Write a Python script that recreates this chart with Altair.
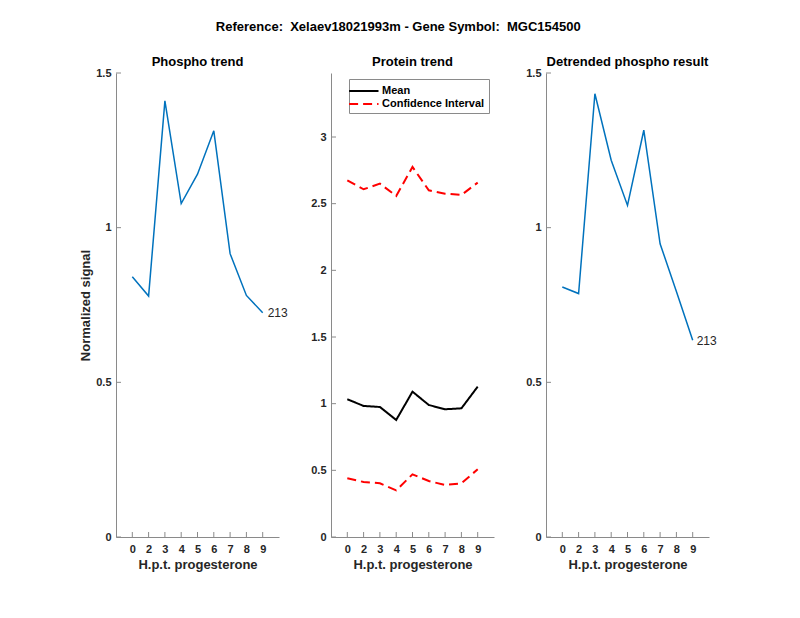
import altair as alt
import pandas as pd

# ---- data ----
hours = ["0", "2", "3", "4", "5", "6", "7", "8", "9"]
positions = [1, 2, 3, 4, 5, 6, 7, 8, 9]

phospho = [0.841, 0.779, 1.410, 1.078, 1.173, 1.313, 0.916, 0.781, 0.725]
protein_mean = [1.033, 0.983, 0.975, 0.878, 1.090, 0.990, 0.958, 0.965, 1.128]
protein_upper = [2.675, 2.608, 2.650, 2.558, 2.775, 2.600, 2.575, 2.565, 2.658]
protein_lower = [0.440, 0.413, 0.403, 0.350, 0.470, 0.420, 0.390, 0.403, 0.508]
detrended = [0.808, 0.787, 1.433, 1.218, 1.072, 1.315, 0.948, 0.794, 0.636]

peptide_label = "213"
y_ticks_1 = [0, 0.5, 1, 1.5]
y_ticks_2 = [0, 0.5, 1, 1.5, 2, 2.5, 3]

FONT = "Liberation Sans"
W, H = 163, 464
BLUE = "#0072BD"
AXC = "#262626"

label_expr = "[" + ",".join(f"'{h}'" for h in hours) + "][datum.value - 1]"
XSCALE = alt.Scale(domain=[0, 10], nice=False, zero=False)
XAXIS = alt.Axis(
    values=positions, labelExpr=label_expr, ticks=False, grid=False,
    labelOverlap=False, labelFlush=False,
    domainColor="#8a8a8a", labelColor=AXC, labelFont=FONT, labelFontSize=11,
    labelFontWeight="bold", labelPadding=6,
    title="H.p.t. progesterone", titleFont=FONT, titleFontSize=13,
    titleFontWeight="bold", titleColor=AXC, titlePadding=4,
)


def x_enc():
    return alt.X("pos:Q", scale=XSCALE, axis=XAXIS)


def y_axis(ticks, title=None):
    ax = dict(
        values=ticks, ticks=False, grid=False, domainColor="#8a8a8a", format="~g",
        labelOverlap=False, labelFlush=False,
        labelColor=AXC, labelFont=FONT, labelFontSize=11, labelFontWeight="bold",
        labelPadding=5,
    )
    if title:
        ax.update(title=title, titleFont=FONT, titleFontSize=13, titleFontWeight="bold",
                  titleColor=AXC, titlePadding=3)
    else:
        ax.update(title=None)
    return alt.Axis(**ax)


def y_enc(domain, yaxis):
    return alt.Y("v:Q", scale=alt.Scale(domain=domain, nice=False, zero=False), axis=yaxis)


def inward_ticks(domain, ticks, yaxis):
    xt = pd.DataFrame({"pos": positions})
    yt = pd.DataFrame({"v": ticks})
    xr = alt.Chart(xt).mark_rule(color="#8a8a8a", strokeWidth=1).encode(
        x=x_enc(), y=alt.value(H), y2=alt.value(H - 5))
    yr = alt.Chart(yt).mark_rule(color="#8a8a8a", strokeWidth=1).encode(
        y=y_enc(domain, yaxis), x=alt.value(0), x2=alt.value(5))
    return [xr, yr]


def title_of(t, offset):
    return alt.TitleParams(t, font=FONT, fontSize=13, fontWeight="bold", color="#000000",
                           anchor="middle", frame="group", offset=offset)


# ---- panel 1 ----
df1 = pd.DataFrame({"pos": positions, "v": phospho})
dom1 = [0, 1.5]
ya1 = y_axis(y_ticks_1, "Normalized signal")
line1 = alt.Chart(df1).mark_line(color=BLUE, strokeWidth=1.5).encode(
    x=x_enc(), y=y_enc(dom1, ya1))
lab1 = alt.Chart(df1.tail(1).assign(t=peptide_label)).mark_text(
    align="left", baseline="middle", dx=5, font=FONT, fontSize=12, color=AXC).encode(
    x=x_enc(), y=y_enc(dom1, ya1), text="t:N")
p1 = alt.layer(line1, lab1, *inward_ticks(dom1, y_ticks_1, ya1)).properties(
    width=W, height=H, title=title_of("Phospho trend", -2))

# ---- panel 2 ----
dom2 = [0, 3.48]
ya2 = y_axis(y_ticks_2)
rows = []
for p, m, u, l in zip(positions, protein_mean, protein_upper, protein_lower):
    rows.append({"pos": p, "v": m, "series": "mean", "kind": "Mean"})
    rows.append({"pos": p, "v": u, "series": "upper", "kind": "Confidence Interval"})
    rows.append({"pos": p, "v": l, "series": "lower", "kind": "Confidence Interval"})
df2 = pd.DataFrame(rows)
kinds = ["Mean", "Confidence Interval"]
leg = dict(title=None, orient="none", legendX=18, legendY=6,
           symbolType="M-1.7,0H2.5", symbolSize=196, symbolStrokeWidth=2,
           labelFont=FONT, labelFontSize=11, labelFontWeight="bold",
           labelColor="#000000", rowPadding=0, padding=4,
           strokeColor="#8a8a8a", fillColor="#ffffff", cornerRadius=0,
           labelOffset=13)
line2 = alt.Chart(df2).mark_line(strokeWidth=2).encode(
    x=x_enc(), y=y_enc(dom2, ya2),
    detail="series:N",
    color=alt.Color("kind:N", scale=alt.Scale(domain=kinds, range=["#000000", "#FF0000"]),
                    legend=alt.Legend(**leg)),
    strokeDash=alt.StrokeDash("kind:N", scale=alt.Scale(domain=kinds, range=[[1, 0], [9, 5]]),
                              legend=alt.Legend(**leg)),
)
p2 = alt.layer(line2, *inward_ticks(dom2, y_ticks_2, ya2)).properties(
    width=W, height=H, title=title_of("Protein trend", 4))

# ---- panel 3 ----
df3 = pd.DataFrame({"pos": positions, "v": detrended})
ya3 = y_axis(y_ticks_1)
line3 = alt.Chart(df3).mark_line(color=BLUE, strokeWidth=1.5).encode(
    x=x_enc(), y=y_enc(dom1, ya3))
lab3 = alt.Chart(df3.tail(1).assign(t=peptide_label)).mark_text(
    align="left", baseline="middle", dx=4, dy=1, font=FONT, fontSize=12, color=AXC).encode(
    x=x_enc(), y=y_enc(dom1, ya3), text="t:N")
p3 = alt.layer(line3, lab3, *inward_ticks(dom1, y_ticks_1, ya3)).properties(
    width=W, height=H, title=title_of("Detrended phospho result", -2))

chart = alt.hconcat(p1, p2, p3, spacing=52, bounds="flush").properties(
    title=alt.TitleParams("Reference:\u00a0 Xelaev18021993m - Gene Symbol:\u00a0 MGC154500",
                          font=FONT, fontSize=13, fontWeight="bold", color="#000000",
                          anchor="middle", offset=22),
    padding={"left": 71, "top": 13, "right": 5, "bottom": 5},
).resolve_scale(color="independent", strokeDash="independent").configure_view(stroke=None)

chart.save("out.html", embed_options={"renderer": "svg", "actions": False})
